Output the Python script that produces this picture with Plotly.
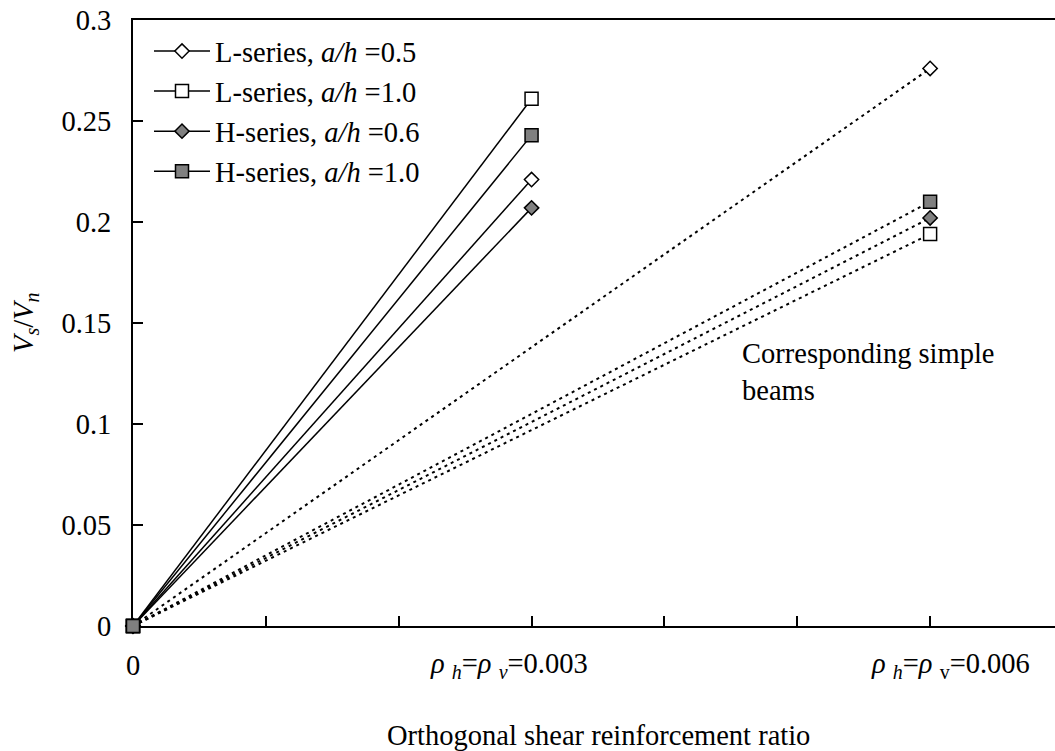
import plotly.graph_objects as go

# Shear reinforcement ratio (rho_h = rho_v) for the deep beams and the simple beams
ratio_deep = [0.0, 0.003]
ratio_simple = [0.0, 0.006]

series_names = [
    "L-series, <i>a/h</i> =0.5",
    "L-series, <i>a/h</i> =1.0",
    "H-series,<i> a/h</i> =0.6",
    "H-series,<i> a/h</i> =1.0",
]
# Vs/Vn of the deep beams (solid) and of the corresponding simple beams (dotted)
deep_vs_vn = [0.221, 0.261, 0.207, 0.243]
simple_vs_vn = [0.276, 0.194, 0.202, 0.210]

marker_symbols = ["diamond", "square", "diamond", "square"]
marker_fills = ["white", "white", "#808080", "#808080"]
marker_sizes = [11, 13, 11, 13]

x_tick_texts = [
    "0",
    "<i>ρ</i> <sub><i>h</i></sub>=<i>ρ</i> <sub><i>v</i></sub>=0.003",
    "<i>ρ</i> <sub><i>h</i></sub>=<i>ρ</i> <sub>v</sub>=0.006",
]
x_tick_pos = [133, 509, 950]  # label centres in pixels

FONT = "Liberation Serif"
FS = 28.5
W, H = 1055, 751
L, R, T, B = 133, 0, 20, 125

fig = go.Figure()

# dotted lines: corresponding simple beams
for i in range(4):
    fig.add_trace(go.Scatter(
        x=ratio_simple, y=[0.0, simple_vs_vn[i]],
        mode="lines+markers",
        line=dict(color="black", width=2, dash="3px,4px"),
        marker=dict(symbol=marker_symbols[i], size=marker_sizes[i],
                    color=marker_fills[i], line=dict(color="black", width=1.5)),
        showlegend=False, cliponaxis=False, hoverinfo="skip",
    ))

# solid lines: deep beams
for i in range(4):
    fig.add_trace(go.Scatter(
        x=ratio_deep, y=[0.0, deep_vs_vn[i]],
        mode="lines+markers", name=series_names[i],
        line=dict(color="black", width=1.5),
        marker=dict(symbol=marker_symbols[i], size=marker_sizes[i],
                    color=marker_fills[i], line=dict(color="black", width=1.5)),
        cliponaxis=False,
    ))

annotations = []
plot_w = W - L - R
plot_h = H - T - B
for txt, px in zip(x_tick_texts, x_tick_pos):
    annotations.append(dict(
        text=txt, xref="paper", yref="paper",
        x=(px - L) / plot_w, y=-(665 - (H - B)) / plot_h,
        xanchor="center", yanchor="middle", showarrow=False,
        font=dict(family=FONT, size=FS, color="black"),
    ))

annotations.append(dict(
    text="Orthogonal shear reinforcement ratio", xref="paper", yref="paper",
    x=(598 - L) / plot_w, y=-(735 - (H - B)) / plot_h,
    xanchor="center", yanchor="middle", showarrow=False,
    font=dict(family=FONT, size=FS, color="black"),
))
annotations.append(dict(
    text="<i>V<sub>s</sub></i>/<i>V<sub>n</sub></i>", xref="paper", yref="paper",
    x=(25 - L) / plot_w, y=1 - (323 - T) / plot_h,
    xanchor="center", yanchor="middle", showarrow=False, textangle=-90,
    font=dict(family=FONT, size=FS, color="black"),
))
annotations.append(dict(
    text="Corresponding simple<br>beams", xref="paper", yref="paper",
    x=(740 - L) / plot_w, y=1 - (372 - T) / plot_h,
    xanchor="left", yanchor="middle", align="left", showarrow=False,
    font=dict(family=FONT, size=FS, color="black"),
))

fig.update_layout(
    width=W, height=H,
    margin=dict(l=L, r=R, t=T, b=B),
    paper_bgcolor="white", plot_bgcolor="white",
    font=dict(family=FONT, size=FS, color="black"),
    showlegend=True,
    legend=dict(
        x=(149 - L) / plot_w, y=1 - (26 - T) / plot_h,
        xanchor="left", yanchor="top",
        bgcolor="rgba(0,0,0,0)", borderwidth=0,
        itemwidth=56, tracegroupgap=0,
        font=dict(family=FONT, size=FS, color="black"),
    ),
    annotations=annotations,
    xaxis=dict(
        range=[0, 0.00694], showgrid=False, zeroline=False,
        showline=True, linecolor="black", linewidth=2, mirror=True,
        ticks="inside", ticklen=10, tickwidth=1.5, tickcolor="black",
        tick0=0, dtick=0.001, showticklabels=False,
        layer="below traces",
    ),
    yaxis=dict(
        range=[0, 0.3], showgrid=False, zeroline=False,
        showline=True, linecolor="black", linewidth=2,
        ticks="inside", ticklen=10, tickwidth=1.5, tickcolor="black",
        tick0=0, dtick=0.05, ticklabelstandoff=14,
        tickfont=dict(family=FONT, size=FS, color="black"),
        layer="below traces",
    ),
)

fig.write_html("out.html")
